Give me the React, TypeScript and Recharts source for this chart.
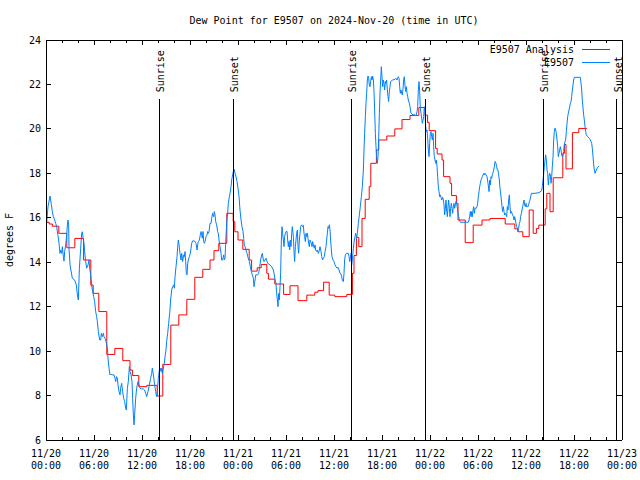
import { LineChart, Line, XAxis, YAxis, ReferenceLine, Legend } from 'recharts';

const FONT = "'DejaVu Sans Mono', monospace";
const TITLE = 'Dew Point for E9507 on 2024-Nov-20 (time in UTC)';
const Y_LABEL = 'degrees F';

// x is hours since 11/20 00:00 UTC
const hourTicks = [0, 2, 4, 6, 8, 10, 12, 14, 16, 18, 20, 22, 24, 26, 28, 30, 32, 34, 36, 38, 40, 42, 44, 46, 48, 50, 52, 54, 56, 58, 60, 62, 64, 66, 68, 70, 72];
const dayLabels = ['11/20', '11/20', '11/20', '11/20', '11/21', '11/21', '11/21', '11/21', '11/22', '11/22', '11/22', '11/22', '11/23'];
const timeLabels = ['00:00', '06:00', '12:00', '18:00', '00:00', '06:00', '12:00', '18:00', '00:00', '06:00', '12:00', '18:00', '00:00'];
const yTicks = [6, 8, 10, 12, 14, 16, 18, 20, 22, 24];

const sunEvents = [
  { hour: 14.17, label: 'Sunrise' },
  { hour: 23.42, label: 'Sunset' },
  { hour: 38.17, label: 'Sunrise' },
  { hour: 47.42, label: 'Sunset' },
  { hour: 62.17, label: 'Sunrise' },
  { hour: 71.33, label: 'Sunset' },
];
const SUN_LINE_TOP = 21.33;

const series = [
  { name: 'E9507 Analysis', color: '#ff0000' },
  { name: 'E9507', color: '#0080ff' },
];

// analysis (hourly steps): [hour, degF]
const analysisDew: [number, number][] = [
  [0, 15.8], [0.4, 15.72], [0.8, 15.62], [1.6, 15.3], [2.6, 14.65], [3.6, 15.07], [4.7, 14.1], [5.6, 12.97],
  [5.9, 12.6], [6.6, 11.78], [7.6, 9.85], [8.6, 10.12], [9.6, 9.57], [10.5, 9.15], [10.8, 8.9], [11.6, 8.4],
  [12.6, 8.46], [13.9, 7.98], [14.6, 9.4], [15.6, 11.17], [16.6, 11.63], [17.6, 12.33], [18.6, 13.32],
  [19.6, 13.68], [20.5, 14.1], [21.0, 14.52], [21.6, 14.85], [22.6, 16.2], [23.4, 15.83], [23.6, 15.37],
  [24.0, 15.0], [24.6, 14.58], [25.4, 14.1], [25.7, 13.6], [26.4, 13.75], [26.9, 13.9], [27.6, 13.5],
  [27.8, 13.24], [28.6, 13.02], [29.7, 12.55], [30.5, 12.94], [31.5, 12.27], [32.6, 12.52], [33.6, 12.65],
  [34.0, 12.72], [34.7, 13.1], [35.4, 12.52], [36.1, 12.45], [37.6, 12.55], [38.3, 13.5], [38.5, 14.3],
  [38.8, 15.12], [39.1, 14.7], [39.5, 15.97], [39.9, 16.83], [40.4, 17.4], [40.6, 18.45], [41.3, 19.05],
  [41.6, 19.5], [42.6, 19.68], [43.6, 20.0], [44.5, 20.42], [45.5, 20.6], [46.6, 20.96], [47.4, 20.62],
  [47.7, 20.28], [47.9, 19.92], [48.7, 19.12], [48.9, 18.87], [49.5, 18.6], [49.7, 17.85], [50.5, 17.55],
  [50.7, 17.0], [51.3, 16.65], [51.5, 15.9], [52.4, 14.88], [53.4, 15.67], [54.5, 15.9], [55.5, 15.97],
  [57.4, 15.72], [58.6, 15.5], [59.0, 15.37], [59.6, 15.15], [60.4, 16.35], [60.9, 15.3], [61.3, 15.52],
  [61.6, 15.67], [62.4, 16.4], [62.6, 17.1], [63.0, 16.27], [63.4, 17.8], [64.6, 18.9], [64.8, 19.3],
  [65.0, 18.2], [65.8, 19.83], [66.6, 20.02], [67.6, 20.02],
];

// station observations: [hour, degF]
const dewDay1: [number, number][] = [
  [0.08, 15.75], [0.25, 16.5], [0.5, 16.98], [0.67, 16.6], [0.79, 16.27], [0.92, 16.05], [1.08, 15.9], [1.21, 15.75],
  [1.33, 15.6], [1.5, 15.2], [1.63, 14.85], [1.75, 14.4], [1.83, 14.55], [1.96, 14.4], [2.04, 14.7], [2.17, 14.25],
  [2.25, 14.05], [2.33, 14.47], [2.46, 14.77], [2.58, 15.2], [2.67, 15.67], [2.75, 15.9], [2.83, 15.67], [2.88, 14.6],
  [3.0, 13.88], [3.29, 13.28], [3.58, 13.2], [3.79, 12.98], [3.92, 12.53], [4.04, 12.3], [4.17, 13.7], [4.33, 14.6],
  [4.46, 15.3], [4.54, 15.37], [4.67, 15.0], [4.75, 14.85], [4.83, 14.48], [4.96, 14.03], [5.08, 13.73], [5.25, 13.88],
  [5.38, 14.1], [5.46, 13.73], [5.58, 13.43], [5.71, 12.98], [5.83, 12.68], [5.96, 12.45], [6.08, 12.23], [6.21, 11.78],
  [6.33, 11.55], [6.42, 11.33], [6.54, 10.88], [6.71, 10.5], [6.83, 10.5], [6.92, 10.8], [7.04, 10.65], [7.17, 10.8],
  [7.25, 10.65], [7.38, 10.58], [7.5, 10.43], [7.67, 10.13], [7.75, 9.68], [7.88, 9.23], [8.0, 8.93], [8.08, 8.96],
  [8.29, 8.93], [8.5, 8.93], [8.63, 8.78], [8.71, 8.63], [8.83, 8.85], [8.92, 8.78], [9.0, 8.48], [9.13, 8.18],
  [9.25, 8.03], [9.33, 8.33], [9.46, 8.55], [9.58, 8.18], [9.71, 7.88], [9.83, 7.73], [9.96, 7.43], [10.04, 7.35],
  [10.17, 8.33], [10.29, 8.63], [10.42, 9.3], [10.5, 9.08], [10.63, 8.93], [10.75, 8.63], [10.83, 7.88], [10.92, 7.13],
  [11.0, 6.68], [11.08, 7.13], [11.21, 7.88], [11.33, 8.33], [11.5, 8.63], [11.63, 8.48], [11.75, 8.33], [11.92, 8.3],
  [12.17, 8.3], [12.33, 8.25], [12.46, 8.1], [12.58, 7.95], [12.75, 8.18], [12.92, 8.48], [13.08, 8.78], [13.21, 9.0],
  [13.29, 9.23], [13.42, 8.93], [13.58, 8.48], [13.71, 8.18], [13.83, 7.95], [13.92, 8.18], [14.04, 8.78], [14.17, 9.15],
  [14.29, 9.23], [14.38, 9.08], [14.46, 9.23], [14.54, 9.0], [14.67, 9.23], [14.79, 9.45], [14.88, 9.75], [15.0, 10.05],
  [15.08, 10.43], [15.21, 10.8], [15.33, 11.25], [15.46, 11.7], [15.58, 12.3], [15.71, 12.75], [15.83, 12.9], [15.96, 12.98],
  [16.04, 12.83], [16.13, 13.35], [16.25, 13.8], [16.38, 14.25], [16.46, 14.7], [16.54, 15.0], [16.63, 14.78], [16.75, 14.4],
  [16.88, 14.1], [16.96, 14.4], [17.08, 14.03], [17.21, 14.33], [17.29, 14.25], [17.38, 14.48], [17.46, 14.03], [17.54, 13.5],
  [17.63, 13.43], [17.71, 13.95], [17.79, 14.1], [17.92, 14.25], [18.04, 14.4], [18.13, 14.63], [18.21, 14.85], [18.33, 14.96],
  [18.54, 14.96], [18.75, 14.85], [18.88, 14.55], [18.96, 14.78], [19.04, 14.93], [19.17, 15.0], [19.29, 15.23], [19.38, 15.38],
  [19.46, 15.23], [19.54, 15.08], [19.63, 15.38], [19.71, 14.93], [19.79, 14.85], [19.88, 14.93], [20.0, 15.15], [20.13, 15.23],
  [20.21, 15.38], [20.29, 15.3], [20.38, 15.38], [20.5, 15.75], [20.63, 15.75], [20.71, 15.98], [20.83, 16.2], [20.96, 16.05],
  [21.04, 16.28], [21.13, 16.13], [21.21, 15.83], [21.33, 15.68], [21.46, 15.38], [21.54, 15.3], [21.63, 15.0], [21.75, 14.7],
  [21.88, 14.4], [21.96, 14.1], [22.08, 14.1], [22.21, 14.33], [22.29, 14.1], [22.38, 14.18], [22.46, 14.85], [22.54, 15.45],
  [22.63, 15.98], [22.71, 16.2], [22.79, 16.65], [22.92, 16.95], [23.0, 17.1], [23.13, 17.4], [23.21, 17.7], [23.33, 17.93],
  [23.46, 18.15], [23.54, 18.18], [23.63, 18.0], [23.75, 17.85], [23.88, 17.63],
];

const dewDay2: [number, number][] = [
  [24.0, 17.33], [24.13, 16.95], [24.25, 16.35], [24.38, 15.9], [24.5, 15.6], [24.63, 15.38], [24.71, 15.08], [24.79, 14.78],
  [24.88, 14.7], [25.0, 14.55], [25.13, 14.4], [25.21, 14.25], [25.29, 14.18], [25.42, 14.03], [25.54, 13.8], [25.67, 13.58],
  [25.79, 13.43], [25.92, 13.28], [26.0, 12.9], [26.13, 13.2], [26.21, 13.43], [26.46, 13.43], [26.58, 13.5], [26.71, 13.8],
  [26.83, 14.1], [26.96, 14.33], [27.04, 14.4], [27.17, 14.1], [27.25, 14.03], [27.38, 14.1], [27.5, 14.18], [27.63, 14.03],
  [27.79, 13.92], [28.0, 13.88], [28.21, 13.8], [28.42, 13.65], [28.54, 13.43], [28.63, 13.2], [28.75, 13.05], [28.83, 12.6],
  [28.92, 12.3], [29.0, 12.0], [29.08, 12.6], [29.17, 12.3], [29.25, 12.9], [29.33, 13.5], [29.42, 15.0], [29.5, 15.6],
  [29.58, 15.3], [29.67, 15.0], [29.75, 14.7], [29.83, 15.15], [29.92, 15.3], [30.0, 15.38], [30.13, 15.38], [30.21, 15.0],
  [30.29, 14.7], [30.38, 14.93], [30.46, 14.55], [30.54, 15.0], [30.63, 14.7], [30.71, 15.3], [30.79, 15.6], [30.92, 15.15],
  [31.0, 14.48], [31.08, 14.03], [31.17, 14.7], [31.25, 15.0], [31.33, 15.3], [31.42, 15.45], [31.5, 14.7], [31.58, 14.4],
  [31.67, 15.0], [31.75, 15.3], [31.83, 15.6], [31.96, 15.68], [32.08, 15.6], [32.17, 15.65], [32.25, 15.3], [32.33, 15.15],
  [32.42, 14.93], [32.5, 15.3], [32.58, 15.15], [32.67, 15.3], [32.75, 15.08], [32.83, 14.85], [32.92, 14.7], [33.0, 15.0],
  [33.08, 14.93], [33.17, 14.85], [33.25, 14.7], [33.33, 14.93], [33.42, 14.78], [33.54, 14.63], [33.63, 14.78], [33.71, 14.55],
  [33.83, 14.48], [33.92, 14.55], [34.04, 14.4], [34.17, 14.55], [34.25, 14.7], [34.38, 14.48], [34.46, 14.25], [34.58, 14.1],
  [34.67, 14.18], [34.79, 14.25], [34.88, 14.48], [35.0, 14.7], [35.08, 15.0], [35.17, 15.3], [35.25, 15.6], [35.33, 15.53],
  [35.42, 15.68], [35.5, 15.45], [35.58, 15.0], [35.67, 14.55], [35.75, 14.25], [35.88, 14.1], [36.0, 14.03], [36.13, 13.88],
  [36.25, 13.8], [36.38, 13.73], [36.5, 13.77], [36.63, 13.65], [36.75, 13.5], [36.88, 13.47], [36.96, 13.35], [37.04, 13.2],
  [37.17, 13.13], [37.25, 13.5], [37.33, 14.1], [37.42, 14.33], [37.54, 14.4], [37.79, 14.4], [37.88, 14.25], [37.96, 14.03],
  [38.04, 14.18], [38.13, 14.4], [38.21, 13.88], [38.29, 14.1], [38.42, 14.63], [38.54, 15.0], [38.63, 15.15], [38.71, 15.3],
  [38.83, 15.08], [38.96, 15.45], [39.04, 15.75], [39.17, 16.13], [39.29, 16.5], [39.42, 16.95], [39.54, 17.4], [39.67, 18.15],
  [39.75, 19.05], [39.83, 19.8], [39.92, 20.55], [40.0, 21.15], [40.08, 21.6], [40.17, 22.2], [40.25, 22.38], [40.33, 22.28],
  [40.42, 21.98], [40.5, 21.9], [40.58, 22.13], [40.67, 22.35], [40.75, 22.2], [40.83, 22.38], [40.92, 22.2], [41.0, 21.68],
  [41.08, 20.85], [41.17, 19.8], [41.25, 19.2], [41.33, 18.75], [41.42, 18.45], [41.5, 18.75], [41.58, 19.5], [41.67, 20.7],
  [41.75, 21.6], [41.83, 22.2], [41.92, 22.8], [42.0, 22.35], [42.08, 21.9], [42.17, 22.2], [42.25, 22.05], [42.33, 21.75],
  [42.42, 22.13], [42.5, 22.05], [42.58, 22.2], [42.67, 21.75], [42.75, 21.45], [42.83, 21.23], [42.92, 21.68], [43.0, 21.9],
  [43.08, 22.13], [43.33, 22.2], [43.63, 22.23], [43.75, 22.28], [43.88, 22.2], [43.96, 22.28], [44.04, 22.35], [44.13, 22.28],
  [44.21, 21.9], [44.29, 21.6], [44.38, 21.75], [44.46, 21.6], [44.54, 21.53], [44.63, 21.83], [44.71, 22.2], [44.79, 22.35],
  [44.88, 21.9], [44.96, 21.68], [45.04, 21.9], [45.13, 21.6], [45.21, 21.45], [45.29, 21.3], [45.42, 21.15], [45.5, 21.0],
  [45.63, 20.7], [45.88, 20.63], [46.13, 20.63], [46.25, 20.58], [46.38, 20.78], [46.46, 21.0], [46.54, 21.75], [46.63, 22.13],
  [46.71, 21.68], [46.79, 20.93], [46.88, 20.7], [46.96, 20.48], [47.04, 20.25], [47.13, 20.4], [47.21, 20.55], [47.29, 21.0],
  [47.38, 20.7], [47.46, 20.1], [47.54, 19.88], [47.63, 19.95], [47.71, 19.58], [47.79, 19.05], [47.88, 18.75], [47.96, 19.35],
];

const dewDay3: [number, number][] = [
  [48.04, 19.8], [48.13, 19.88], [48.21, 19.65], [48.29, 19.5], [48.38, 19.8], [48.46, 19.2], [48.54, 18.75], [48.63, 18.6],
  [48.71, 18.45], [48.79, 18.6], [48.88, 18.3], [48.96, 17.85], [49.04, 17.4], [49.13, 17.18], [49.21, 16.95], [49.29, 17.03],
  [49.38, 16.92], [49.46, 16.8], [49.58, 16.92], [49.67, 16.8], [49.75, 16.58], [49.83, 16.13], [49.92, 16.43], [50.0, 16.8],
  [50.08, 16.35], [50.17, 16.05], [50.25, 16.5], [50.33, 16.8], [50.42, 16.43], [50.5, 16.05], [50.58, 16.43], [50.67, 16.65],
  [50.75, 16.43], [50.83, 16.2], [50.92, 16.5], [51.0, 16.65], [51.08, 16.43], [51.17, 16.58], [51.25, 16.73], [51.33, 16.65],
  [51.42, 16.43], [51.5, 16.2], [51.58, 16.05], [51.67, 15.9], [51.79, 15.8], [52.79, 15.8], [52.88, 15.9], [52.96, 16.05],
  [53.04, 16.28], [53.13, 16.05], [53.21, 16.28], [53.29, 16.05], [53.38, 16.35], [53.46, 16.5], [53.54, 16.2], [53.63, 16.43],
  [53.79, 16.43], [53.88, 16.5], [53.96, 16.65], [54.04, 16.95], [54.13, 17.18], [54.21, 17.4], [54.29, 17.55], [54.38, 17.7],
  [54.46, 17.78], [54.54, 17.85], [54.63, 17.93], [54.71, 18.0], [54.79, 17.93], [54.88, 18.0], [55.0, 17.93], [55.13, 17.85],
  [55.25, 17.55], [55.38, 17.18], [55.46, 17.7], [55.54, 17.48], [55.63, 17.85], [55.71, 17.78], [55.79, 17.93], [55.92, 18.08],
  [56.04, 18.3], [56.13, 18.53], [56.25, 18.45], [56.33, 18.3], [56.42, 18.15], [56.5, 18.15], [56.58, 17.93], [56.67, 17.7],
  [56.75, 17.33], [56.83, 17.1], [56.92, 16.8], [57.0, 16.5], [57.08, 16.28], [57.17, 16.5], [57.25, 16.28], [57.33, 16.13],
  [57.42, 16.2], [57.5, 16.13], [57.58, 16.05], [57.67, 16.5], [57.75, 16.35], [57.83, 16.8], [57.92, 17.03], [58.0, 16.5],
  [58.08, 16.2], [58.17, 16.28], [58.25, 16.2], [58.33, 16.13], [58.42, 16.05], [58.5, 15.9], [58.58, 16.05], [58.67, 15.9],
  [58.75, 15.75], [58.83, 15.6], [58.92, 15.53], [59.0, 15.38], [59.08, 15.53], [59.17, 15.75], [59.25, 15.83], [59.33, 16.05],
  [59.42, 16.2], [59.5, 16.35], [59.58, 16.5], [59.67, 16.65], [59.75, 16.8], [59.83, 16.58], [59.92, 16.5], [60.0, 16.65],
  [60.08, 16.5], [60.25, 16.5], [60.33, 16.58], [60.42, 16.73], [60.5, 16.8], [60.58, 16.95], [60.67, 17.1], [61.13, 17.1],
  [61.63, 17.13], [61.96, 17.22], [62.04, 17.4], [62.13, 17.7], [62.21, 18.0], [62.29, 18.3], [62.38, 18.6], [62.46, 18.83],
  [62.54, 18.6], [62.63, 18.15], [62.71, 18.0], [62.79, 17.48], [62.88, 17.85], [62.96, 18.0], [63.04, 17.93], [63.13, 17.55],
  [63.21, 17.85], [63.29, 18.3], [63.38, 18.75], [63.46, 19.5], [63.54, 19.88], [63.63, 20.03], [63.71, 19.95], [63.79, 19.8],
  [63.88, 19.5], [63.96, 19.2], [64.04, 18.75], [64.13, 18.9], [64.21, 19.05], [64.29, 19.2], [64.38, 19.05], [64.46, 18.83],
  [64.54, 18.75], [64.63, 18.83], [64.71, 18.98], [64.79, 19.28], [64.88, 19.43], [64.96, 19.5], [65.04, 19.88], [65.13, 20.25],
  [65.21, 20.55], [65.29, 20.7], [65.38, 20.85], [65.46, 21.0], [65.54, 21.15], [65.63, 21.23], [65.71, 21.45], [65.79, 21.75],
  [65.88, 21.98], [65.96, 22.2], [66.04, 22.32], [66.79, 22.32], [66.88, 22.05], [66.96, 21.75], [67.04, 21.3], [67.13, 20.93],
  [67.21, 20.63], [67.29, 20.4], [67.38, 20.1], [67.46, 19.88], [67.54, 19.73], [67.71, 19.65], [67.96, 19.56], [68.13, 19.43],
  [68.21, 19.35], [68.29, 19.13], [68.38, 18.75], [68.46, 18.38], [68.54, 18.15], [68.63, 18.0], [68.79, 18.15], [68.96, 18.27],
  [69.13, 18.33],
];

const analysisData = analysisDew.map(([h, v]) => ({ h, v }));
const obsData = [...dewDay1, ...dewDay2, ...dewDay3].map(([h, v]) => ({ h, v }));

const textStyle = { fontFamily: FONT, fontSize: 10, fill: '#000' };

const BottomTick = (props: any) => {
  const { x, y, payload } = props;
  const major = payload.value % 6 === 0;
  const i = payload.value / 6;
  return (
    <g>
      <line x1={x} x2={x} y1={y} y2={y - (major ? 5 : 3)} stroke="#000" shapeRendering="crispEdges" />
      {major && (
        <text x={x} y={y + 17} textAnchor="middle" {...textStyle}>
          <tspan x={x}>{dayLabels[i]}</tspan>
          <tspan x={x} dy={12}>{timeLabels[i]}</tspan>
        </text>
      )}
    </g>
  );
};

const TopTick = (props: any) => {
  const { x, y, payload } = props;
  const major = payload.value % 6 === 0;
  return <line x1={x} x2={x} y1={y} y2={y + (major ? 5 : 3)} stroke="#000" shapeRendering="crispEdges" />;
};

const LeftTick = (props: any) => {
  const { x, y, payload } = props;
  return (
    <g>
      <line x1={x} x2={x + 5} y1={y} y2={y} stroke="#000" shapeRendering="crispEdges" />
      <text x={x - 5} y={y + 3.5} textAnchor="end" {...textStyle}>{payload.value}</text>
    </g>
  );
};

const RightTick = (props: any) => {
  const { x, y } = props;
  return <line x1={x} x2={x - 5} y1={y} y2={y} stroke="#000" shapeRendering="crispEdges" />;
};

const TitleLabel = ({ viewBox }: any) => (
  <text x={viewBox.x + viewBox.width / 2} y={viewBox.y + viewBox.height / 2 + 4} textAnchor="middle" {...textStyle}>
    {TITLE}
  </text>
);

const YLabel = ({ viewBox }: any) => {
  const cx = 13;
  const cy = viewBox.y + viewBox.height / 2;
  return (
    <text x={cx} y={cy} transform={`rotate(-90 ${cx} ${cy})`} textAnchor="middle" {...textStyle}>
      {Y_LABEL}
    </text>
  );
};

const SunLabel = ({ viewBox, text }: any) => {
  if (!viewBox) return null;
  const tx = viewBox.x + 5;
  const ty = viewBox.y - 7;
  return (
    <text x={tx} y={ty} transform={`rotate(-90 ${tx} ${ty})`} textAnchor="start" {...textStyle}>
      {text}
    </text>
  );
};

const LegendBox = () => (
  <svg width={140} height={30} style={{ display: 'block' }}>
    {series.map((s, i) => (
      <g key={s.name}>
        <text x={94} y={13 + i * 13} textAnchor="end" {...textStyle}>{s.name}</text>
        <line x1={102} x2={130} y1={9.5 + i * 13} y2={9.5 + i * 13} stroke={s.color} shapeRendering="crispEdges" />
      </g>
    ))}
  </svg>
);

export default function App() {
  return (
    <div style={{ position: 'absolute', left: 0, top: 0, width: 640, height: 480, background: '#fff' }}>
      <LineChart width={640} height={480} margin={{ top: 0, right: 0, bottom: 0, left: 0 }}>
        <XAxis
          dataKey="h"
          type="number"
          domain={[0, 72]}
          allowDataOverflow
          ticks={hourTicks}
          interval={0}
          height={40}
          tickSize={0}
          tickMargin={0}
          tickLine={false}
          axisLine={{ stroke: '#000', shapeRendering: 'crispEdges' }}
          tick={BottomTick}
        />
        <XAxis
          xAxisId="top"
          orientation="top"
          dataKey="h"
          type="number"
          domain={[0, 72]}
          allowDataOverflow
          ticks={hourTicks}
          interval={0}
          height={40}
          tickSize={0}
          tickMargin={0}
          tickLine={false}
          axisLine={{ stroke: '#000', shapeRendering: 'crispEdges' }}
          tick={TopTick}
          label={<TitleLabel />}
        />
        <YAxis
          type="number"
          domain={[6, 24]}
          allowDataOverflow
          ticks={yTicks}
          interval={0}
          width={46}
          tickSize={0}
          tickMargin={0}
          tickLine={false}
          axisLine={{ stroke: '#000', shapeRendering: 'crispEdges' }}
          tick={LeftTick}
          label={<YLabel />}
        />
        <YAxis
          yAxisId="right"
          orientation="right"
          type="number"
          domain={[6, 24]}
          allowDataOverflow
          ticks={yTicks}
          interval={0}
          width={18}
          tickSize={0}
          tickMargin={0}
          tickLine={false}
          axisLine={{ stroke: '#000', shapeRendering: 'crispEdges' }}
          tick={RightTick}
        />
        <Legend
          layout="horizontal"
          verticalAlign="middle"
          align="center"
          wrapperStyle={{ top: 40, left: 480, width: 140, height: 30 }}
          content={<LegendBox />}
        />
        <Line
          data={analysisData}
          dataKey="v"
          name={series[0].name}
          type="stepAfter"
          stroke={series[0].color}
          strokeWidth={1}
          dot={false}
          activeDot={false}
          isAnimationActive={false}
        />
        <Line
          data={obsData}
          dataKey="v"
          name={series[1].name}
          type="linear"
          stroke={series[1].color}
          strokeWidth={1}
          dot={false}
          activeDot={false}
          isAnimationActive={false}
        />
        {sunEvents.map((e, i) => (
          <ReferenceLine
            key={i}
            segment={[{ x: e.hour, y: SUN_LINE_TOP }, { x: e.hour, y: 6 }]}
            stroke="#000"
            strokeWidth={1}
            shapeRendering="crispEdges"
            label={<SunLabel text={e.label} />}
          />
        ))}
      </LineChart>
    </div>
  );
}
